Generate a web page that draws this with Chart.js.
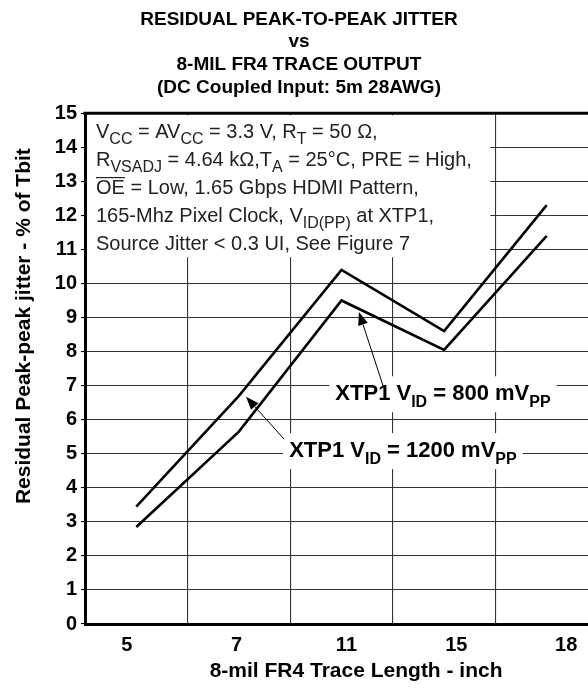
<!DOCTYPE html>
<html lang="en">
<head>
<meta charset="UTF-8">
<title>Residual peak-to-peak jitter vs 8-mil FR4 trace output</title>
<script src="https://cdn.jsdelivr.net/npm/chart.js"></script>
<style>
  html, body { margin: 0; padding: 0; background: #fff; overflow: hidden; }
  canvas { display: block; }
</style>
</head>
<body>
<canvas id="jitterChart" width="600" height="688"></canvas>
<script>
  // data
  const traceLengths = ['5', '7', '11', '15', '18'];
  const jitter800 = [3.45, 6.7, 10.4, 8.6, 12.3];
  const jitter1200 = [2.85, 5.65, 9.5, 8.05, 11.4];
  const yMin = 0, yMax = 15;

  const FONT = "'Liberation Sans', Arial, sans-serif";

  // condition text in the top-left box: [text, 'sub' | 'over' | null]
  const conditionLines = [
    [['V'], ['CC', 'sub'], [' = AV'], ['CC', 'sub'], [' = 3.3 V, R'], ['T', 'sub'], [' = 50 \u03A9,']],
    [['R'], ['VSADJ', 'sub'], [' = 4.64 k\u03A9,T'], ['A', 'sub'], [' = 25\u00B0C, PRE = High,']],
    [['OE', 'over'], [' = Low, 1.65 Gbps HDMI Pattern,']],
    [['165-Mhz Pixel Clock, V'], ['ID(PP)', 'sub'], [' at XTP1,']],
    [['Source Jitter < 0.3 UI, See Figure 7']]
  ];

  // series labels: anchor [category index, value], arrow from -> to
  const seriesLabels = [
    { runs: [['XTP1 V'], ['ID', 'sub'], [' = 800 mV'], ['PP', 'sub']], at: [1.94, 6.57], from: [2.41, 6.95], to: [2.17, 9.16] },
    { runs: [['XTP1 V'], ['ID', 'sub'], [' = 1200 mV'], ['PP', 'sub']], at: [1.49, 4.9], from: [1.44, 5.43], to: [1.07, 6.67] }
  ];

  function drawRuns(ctx, x, y, runs, size, subSize, weight, measureOnly) {
    runs.forEach(([txt, kind]) => {
      const sub = kind === 'sub';
      ctx.font = `${weight} ${sub ? subSize : size}px ${FONT}`;
      const w = ctx.measureText(txt).width;
      if (!measureOnly) {
        ctx.fillText(txt, x, sub ? y + size * 0.3 : y);
        if (kind === 'over') {
          ctx.fillRect(x, y - size * 0.86, w, 1.2);
        }
      }
      x += w;
    });
    return x;
  }

  function arrow(ctx, x1, y1, x2, y2) {
    const ang = Math.atan2(y2 - y1, x2 - x1), len = 13, half = 5;
    const bx = x2 - len * Math.cos(ang), by = y2 - len * Math.sin(ang);
    ctx.beginPath();
    ctx.moveTo(x1, y1);
    ctx.lineTo(bx, by);
    ctx.stroke();
    ctx.beginPath();
    ctx.moveTo(x2, y2);
    ctx.lineTo(bx + half * Math.sin(ang), by - half * Math.cos(ang));
    ctx.lineTo(bx - half * Math.sin(ang), by + half * Math.cos(ang));
    ctx.closePath();
    ctx.fill();
  }

  const notesPlugin = {
    id: 'notes',
    beforeDatasetsDraw(chart) {
      const { ctx, chartArea: a, scales: { x, y } } = chart;
      ctx.save();
      // white box behind the test conditions
      ctx.fillStyle = '#fff';
      const boxR = x.getPixelForValue(3.45), boxB = y.getPixelForValue(10.77);
      ctx.fillRect(a.left + 2, a.top + 2, boxR - a.left - 2, boxB - a.top - 2);
      ctx.fillStyle = '#222';
      ctx.textAlign = 'left';
      ctx.textBaseline = 'alphabetic';
      conditionLines.forEach((runs, i) => {
        drawRuns(ctx, a.left + 11, a.top + 25 + i * 28, runs, 20, 16, 'normal');
      });
      // series labels
      seriesLabels.forEach(l => {
        const lx = x.getPixelForValue(l.at[0]), ly = y.getPixelForValue(l.at[1]);
        const w = drawRuns(ctx, lx, ly, l.runs, 22, 16, 'bold', true) - lx;
        ctx.fillStyle = '#fff';
        ctx.fillRect(lx - 6, ly - 24, w + 12, 36);
        ctx.fillStyle = '#000';
        drawRuns(ctx, lx, ly, l.runs, 22, 16, 'bold');
      });
      ctx.restore();
    },
    afterDatasetsDraw(chart) {
      const { ctx, chartArea: a, scales: { x, y } } = chart;
      ctx.save();
      ctx.strokeStyle = '#000';
      ctx.fillStyle = '#000';
      ctx.lineWidth = 3;
      ctx.beginPath();
      ctx.moveTo(a.left - 1.5, a.top);
      ctx.lineTo(a.right, a.top);
      ctx.stroke();
      ctx.lineWidth = 1;
      seriesLabels.forEach(l => {
        arrow(ctx, x.getPixelForValue(l.from[0]), y.getPixelForValue(l.from[1]),
                   x.getPixelForValue(l.to[0]), y.getPixelForValue(l.to[1]));
      });
      ctx.restore();
    }
  };

  const lineStyle = { borderColor: '#000', borderWidth: 2.6, pointRadius: 0, tension: 0, fill: false };

  new Chart(document.getElementById('jitterChart'), {
    type: 'line',
    data: {
      labels: traceLengths,
      datasets: [
        { label: 'XTP1 VID = 800 mVPP', data: jitter800, ...lineStyle },
        { label: 'XTP1 VID = 1200 mVPP', data: jitter1200, ...lineStyle }
      ]
    },
    options: {
      responsive: false,
      animation: false,
      layout: { padding: { left: 0, right: 2, top: 0, bottom: 0 } },
      plugins: {
        legend: { display: false },
        tooltip: { enabled: false },
        title: {
          display: true,
          text: ['RESIDUAL PEAK-TO-PEAK JITTER', 'vs', '8-MIL FR4 TRACE OUTPUT', '(DC Coupled Input: 5m 28AWG)'],
          color: '#000',
          font: { family: FONT, size: 19, weight: 'bold', lineHeight: 1.2 },
          padding: { top: 8, bottom: 14 }
        }
      },
      scales: {
        x: {
          type: 'category',
          offset: true,
          grid: { offset: true, color: '#333', lineWidth: 1.1, drawTicks: false },
          border: { color: '#000', width: 3 },
          ticks: { display: false },
          afterFit: s => { s.height = 0; }
        },
        // tick labels sit a little off the data columns in the original
        xLabels: {
          type: 'linear',
          position: 'bottom',
          min: -0.38,
          max: 4.29,
          grid: { display: false, drawTicks: false },
          border: { display: false },
          ticks: {
            stepSize: 1,
            includeBounds: false,
            padding: 9,
            color: '#000',
            font: { family: FONT, size: 20, weight: 'bold' },
            callback: v => traceLengths[v] ?? ''
          },
          title: {
            display: true,
            text: '     8-mil FR4 Trace Length - inch',
            color: '#000',
            font: { family: FONT, size: 21, weight: 'bold', lineHeight: 1.2 },
            padding: { top: 2, bottom: 4 }
          },
          afterFit: s => { s.height = 64; }
        },
        y: {
          min: yMin,
          max: yMax,
          ticks: {
            stepSize: 1,
            padding: 4,
            color: '#000',
            font: { family: FONT, size: 20, weight: 'bold' }
          },
          grid: { color: '#333', lineWidth: 1.1, tickLength: 4, tickColor: '#000' },
          border: { color: '#000', width: 3 },
          title: {
            display: true,
            text: 'Residual Peak-peak jitter - % of Tbit      ',
            align: 'end',
            color: '#000',
            font: { family: FONT, size: 21, weight: 'bold', lineHeight: 1.2 },
            padding: { top: 12, bottom: 0 }
          },
          afterFit: s => { s.width = 85; }
        }
      }
    },
    plugins: [notesPlugin]
  });
</script>
</body>
</html>
